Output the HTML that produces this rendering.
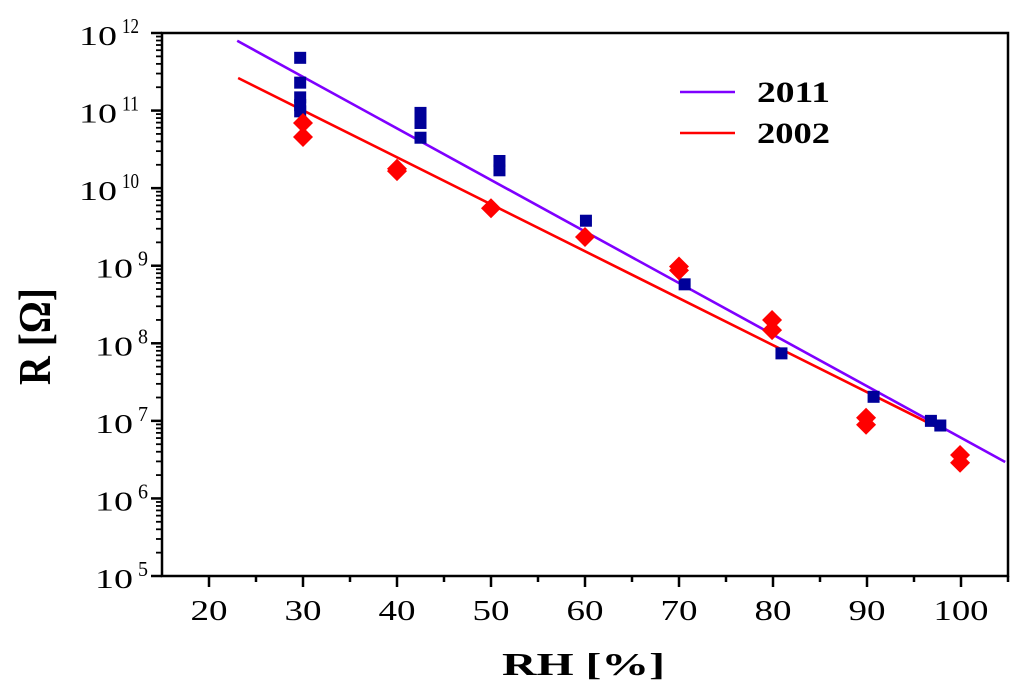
<!DOCTYPE html>
<html><head><meta charset="utf-8"><style>
body{margin:0;background:#fff}
svg{display:block;font-family:"Liberation Serif",serif}
</style></head><body>
<svg id="chart" width="1024" height="697" viewBox="0 0 1024 697" xmlns="http://www.w3.org/2000/svg">
<rect x="162" y="33" width="846" height="543" fill="none" stroke="#000" stroke-width="2.5"/>
<g id="axes"></g>
<g id="series"></g>
<g>
<line x1="680" y1="92" x2="735" y2="92" stroke="#7f00ff" stroke-width="2.5"/>
<text x="757" y="102" font-size="30" font-weight="bold" textLength="73" lengthAdjust="spacingAndGlyphs">2011</text>
<line x1="680" y1="133" x2="735" y2="133" stroke="#ff0000" stroke-width="2.5"/>
<text x="757" y="143" font-size="30" font-weight="bold" textLength="73" lengthAdjust="spacingAndGlyphs">2002</text>
</g>
<text x="502" y="675" font-size="32" font-weight="bold" textLength="163" lengthAdjust="spacingAndGlyphs">RH [%]</text>
<text transform="translate(50,385) rotate(-90)" font-size="46" font-weight="bold" textLength="97" lengthAdjust="spacingAndGlyphs">R [Ω]</text>
</svg>
<script>
const xTicks=[20,30,40,50,60,70,80,90,100];
const yExps=[5,6,7,8,9,10,11,12];
const blueX=[29.7,29.7,29.7,29.7,29.7,42.5,42.5,42.5,50.9,50.9,60.1,70.6,80.9,90.7,96.8,97.8];
const blueLog=[11.68,11.36,11.17,11.07,10.99,10.97,10.84,10.65,10.35,10.23,9.58,8.76,7.87,7.31,7.0,6.94];
const redX=[30,30,40,40,50,60,70,70,79.9,79.9,89.9,89.9,99.9,99.9];
const redLog=[10.84,10.66,10.25,10.22,9.74,9.37,8.99,8.94,8.30,8.17,7.04,6.95,6.56,6.46];
const fit2011X=[23.0,104.7];
const fit2011Log=[11.90,6.47];
const fit2002X=[23.1,98.1];
const fit2002Log=[11.42,6.88];
const NS="http://www.w3.org/2000/svg";
const xs=v=>162+(v-15)*9.4;
const ys=l=>33+(12-l)*(543/7);
function mk(tag,attrs,parent){const e=document.createElementNS(NS,tag);for(const k in attrs)e.setAttribute(k,attrs[k]);parent.appendChild(e);return e;}
const axes=document.getElementById('axes'),ser=document.getElementById('series');
for(let v=20;v<=105;v+=5){
  const major=v%10===0;
  const t=mk('line',{x1:xs(v),x2:xs(v),y1:576,y2:major?587:582,stroke:'#000','stroke-width':2.5},axes);
  
  
}
xTicks.forEach(v=>{
  const w=v>=100?55:37;
  const t=mk('text',{x:xs(v)-w/2,y:620,'font-size':28,textLength:w,lengthAdjust:'spacingAndGlyphs'},axes);
  t.textContent=v;
  
  
});
yExps.forEach(e=>{
  const y=ys(e);
  const t=mk('line',{x1:151,x2:162,y1:y,y2:y,stroke:'#000','stroke-width':2.5},axes);
  
  
  if(e<12){for(let m=2;m<=9;m++){const yy=ys(e+Math.log10(m));
    const mt=mk('line',{x1:156,x2:162,y1:yy,y2:yy,stroke:'#000','stroke-width':1.8},axes);
    
    }}
  const two=e>=10;
  const bx=two?79:95;
  const tx=mk('text',{x:bx,y:y+12,'font-size':27,textLength:38,lengthAdjust:'spacingAndGlyphs'},axes);
  tx.textContent='10';
  
  
  const sp=mk('text',{x:bx+43,y:y,'font-size':21,textLength:two?17:10,lengthAdjust:'spacingAndGlyphs'},axes);
  sp.textContent=e;
  
  
});
const l1=mk('line',{x1:xs(fit2011X[0]),y1:ys(fit2011Log[0]),x2:xs(fit2011X[1]),y2:ys(fit2011Log[1]),stroke:'#7f00ff','stroke-width':2.6},ser);


const l2=mk('line',{x1:xs(fit2002X[0]),y1:ys(fit2002Log[0]),x2:xs(fit2002X[1]),y2:ys(fit2002Log[1]),stroke:'#ff0000','stroke-width':2.6},ser);


blueX.forEach((v,i)=>{
  const r=mk('rect',{x:xs(v)-6,y:ys(blueLog[i])-6,width:12,height:12,fill:'#000099'},ser);
  
  
});
redX.forEach((v,i)=>{
  const cx=xs(v),cy=ys(redLog[i]);
  const p=mk('polygon',{points:`${cx},${cy-10} ${cx+10},${cy} ${cx},${cy+10} ${cx-10},${cy}`,fill:'#ff0000'},ser);
  
  
});
</script>
</body></html>
